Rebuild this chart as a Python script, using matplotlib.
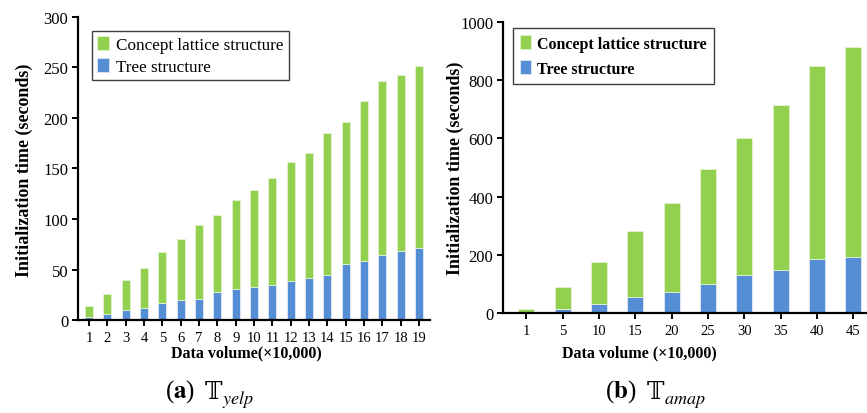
import matplotlib.pyplot as plt
import numpy as np

plt.rcParams['font.family'] = ['Liberation Serif', 'DejaVu Serif']
plt.rcParams['mathtext.fontset'] = 'stix'

# (a) yelp
yelp_volume = [str(i) for i in range(1, 20)]
yelp_tree = [3, 5.5, 10, 12, 17, 20, 21, 27.5, 31, 33, 35, 38.5, 42, 44.5, 55, 58, 64, 68, 71]
yelp_total = [13.5, 26, 40, 51.5, 67, 80, 94, 104, 119, 129, 140.5, 156, 165, 185, 196, 216.5, 236.5, 243, 251.5]
yelp_lattice = [t - b for t, b in zip(yelp_total, yelp_tree)]

# (b) amap
amap_volume = ['1', '5', '10', '15', '20', '25', '30', '35', '40', '45']
amap_tree = [2, 14, 32, 56, 72, 100, 130, 148, 186, 194]
amap_total = [15, 89, 177, 281, 377, 496, 603, 716, 849, 915]
amap_lattice = [t - b for t, b in zip(amap_total, amap_tree)]

GREEN = '#92D050'
BLUE = '#558ED5'

fig = plt.figure(figsize=(8.67, 4.14), dpi=100)
ax1 = fig.add_axes([0.090, 0.2246, 0.406, 0.732])
ax2 = fig.add_axes([0.580, 0.2408, 0.420, 0.704])


def draw(ax, labels, tree, lattice, width, xlim, ylim, yticks, leg_opts):
    x = np.arange(len(labels))
    ax.bar(x, tree, width, color=BLUE, edgecolor='#dfe9f7', linewidth=0.6,
           label='Tree structure')
    ax.bar(x, lattice, width, bottom=tree, color=GREEN, edgecolor='#e4f3d2',
           linewidth=0.6, label='Concept lattice structure')
    ax.set_xlim(*xlim)
    ax.set_ylim(*ylim)
    ax.set_yticks(yticks)
    ax.set_xticks(x)
    ax.set_xticklabels(labels)
    for s in ['top', 'right']:
        ax.spines[s].set_visible(False)
    for s in ['left', 'bottom']:
        ax.spines[s].set_linewidth(1.6)
    ax.tick_params(axis='both', direction='out', width=1.4, length=4,
                   labelsize=12, pad=3)
    ax.tick_params(axis='x', labelsize=10.5, pad=4)
    h, l = ax.get_legend_handles_labels()
    leg = ax.legend(h[::-1], l[::-1], loc='upper left', borderaxespad=0,
                    fancybox=False, edgecolor='#404040', framealpha=1,
                    handlelength=0.7, handleheight=0.9, handletextpad=0.4,
                    **leg_opts)
    leg.get_frame().set_linewidth(1.0)


draw(ax1, yelp_volume, yelp_tree, yelp_lattice, 0.45, (-0.6, 18.6), (0, 300),
     range(0, 301, 50),
     dict(bbox_to_anchor=(0.04, 0.954), borderpad=0.3, labelspacing=0.3,
          prop={'size': 12.3}))
draw(ax2, amap_volume, amap_tree, amap_lattice, 0.44, (-0.65, 9.38), (0, 1000),
     range(0, 1001, 200),
     dict(bbox_to_anchor=(0.027, 0.978), borderpad=0.45, labelspacing=0.55,
          prop={'size': 11.5, 'weight': 'bold'}))

fig.text(0.028, 0.589, 'Initialization time (seconds)', rotation=90, ha='center',
         va='center', fontsize=13, fontweight='bold')
fig.text(0.525, 0.594, 'Initialization time (seconds)', rotation=90, ha='center',
         va='center', fontsize=13, fontweight='bold')
fig.text(0.284, 0.147, 'Data volume(×10,000)', ha='center', va='center',
         fontsize=11.5, fontweight='bold')
fig.text(0.738, 0.147, 'Data volume (×10,000)', ha='center', va='center',
         fontsize=11.5, fontweight='bold')

# captions: "(a)" + upright double-struck T (DejaVu Serif) + italic subscript
for xl, letter, sub in [(0.190, 'a', 'yelp'), (0.698, 'b', 'amap')]:
    t1 = fig.text(xl, 0.022, '($\\mathbf{' + letter + '}$)', ha='left',
                  va='bottom', fontsize=18)
    t2 = ax1.annotate('\U0001D54B', xy=(1, 0), xycoords=t1, xytext=(7, 0.5),
                      textcoords='offset points', ha='left', va='bottom',
                      fontsize=17, family=['DejaVu Serif'], annotation_clip=False)
    ax1.annotate('$' + sub + '$', xy=(1, 0), xycoords=t2, xytext=(0, -4),
                 textcoords='offset points', ha='left', va='bottom',
                 fontsize=13, annotation_clip=False)

fig.savefig('out.png', dpi=100)
